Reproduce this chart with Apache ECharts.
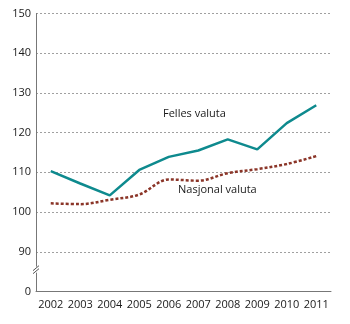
<!DOCTYPE html>
<html><head><meta charset="utf-8">
<script src="https://cdn.jsdelivr.net/npm/echarts@6/dist/echarts.min.js"></script>
<style>html,body{margin:0;padding:0;background:#fff}#c{width:350px;height:324px}</style>
</head><body><div id="c"></div>
<script>
var years = ['2002','2003','2004','2005','2006','2007','2008','2009','2010','2011'];
var fellesValuta = [110.3, 107.2, 104.2, 110.6, 113.9, 115.5, 118.3, 115.8, 122.4, 126.9];
var nasjonalValuta = [102.2, 102.0, 103.1, 104.4, 108.2, 107.9, 109.8, 110.8, 112.1, 114.1];
var yTicks = [80, 90, 100, 110, 120, 130, 140, 150];
var yTickLabels = ['0', '90', '100', '110', '120', '130', '140', '150'];
var seriesNames = ['Felles valuta', 'Nasjonal valuta'];

var font = 'Open Sans';
var chart = echarts.init(document.getElementById('c'));
chart.setOption({
  animation: false,
  grid: {left: 36, right: 19, top: 13.5, bottom: 32.5},
  xAxis: {
    type: 'category', data: years, boundaryGap: true,
    axisLine: {lineStyle: {color: '#777', width: 1}},
    axisTick: {alignWithLabel: true, interval: 0, length: 5, lineStyle: {color: '#888'}},
    axisLabel: {color: '#1a1a1a', fontFamily: font, fontSize: 11, margin: 8, interval: 0, hideOverlap: false}
  },
  yAxis: {
    type: 'value', min: 80, max: 150, interval: 10,
    axisLine: {show: true, lineStyle: {color: '#777', width: 1}},
    axisTick: {show: false},
    axisLabel: {color: '#1a1a1a', fontFamily: font, fontSize: 11, margin: 5,
      formatter: function (v) { var i = yTicks.indexOf(v); return i >= 0 ? yTickLabels[i] : ''; }},
    splitLine: {show: true, lineStyle: {color: '#888', type: [2, 2], width: 0.8}},
  },
  series: [
    {name: seriesNames[0], type: 'line', data: fellesValuta, symbol: 'none',
     lineStyle: {color: '#0e8a8e', width: 2.5}},
    {name: seriesNames[1], type: 'line', data: nasjonalValuta, symbol: 'none', smooth: 0.35,
     lineStyle: {color: '#8b3528', width: 2.5, type: [3, 2]}}
  ]
});
var p85 = chart.convertToPixel({gridIndex: 0}, [0, 85.5]);
var x0 = 36;
chart.setOption({
  graphic: [
    {type: 'rect', shape: {x: x0 - 3, y: p85[1] - 3, width: 6, height: 6}, style: {fill: '#fff'}, z: 100},
    {type: 'line', shape: {x1: x0 - 3, y1: p85[1] + 1, x2: x0 + 3, y2: p85[1] - 4}, style: {stroke: '#555', lineWidth: 1}, z: 101},
    {type: 'line', shape: {x1: x0 - 3, y1: p85[1] + 4, x2: x0 + 3, y2: p85[1] - 1}, style: {stroke: '#555', lineWidth: 1}, z: 101},
    {type: 'text', x: 163, y: 108, style: {text: seriesNames[0], fill: '#1a1a1a', font: '11px "Open Sans"'}, z: 100},
    {type: 'text', x: 178, y: 184, style: {text: seriesNames[1], fill: '#1a1a1a', font: '11px "Open Sans"'}, z: 100}
  ]
});
</script></body></html>
